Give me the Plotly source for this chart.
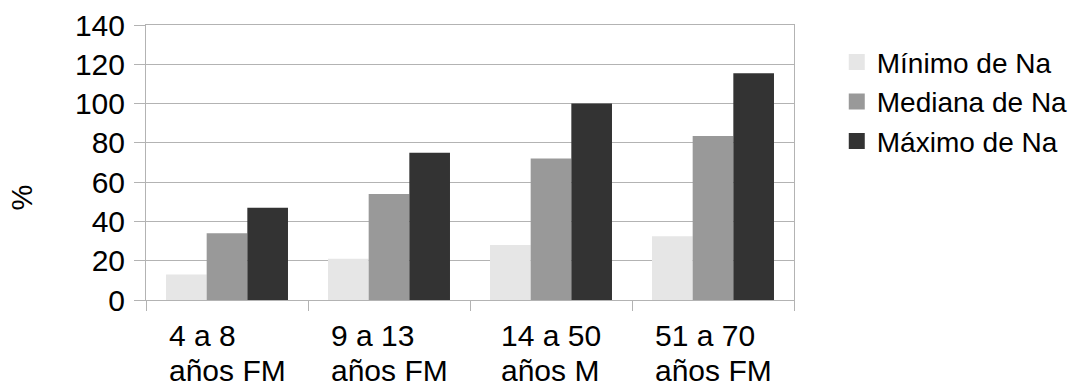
import plotly.graph_objects as go

# Age groups (two-line labels) and sodium statistics in %
categories = ["4 a 8<br>años FM", "9 a 13<br>años FM", "14 a 50<br>años M", "51 a 70<br>años FM"]
minimo = [13, 21, 28, 32.5]
mediana = [34, 54, 72, 83.5]
maximo = [47, 75, 100, 115.5]

series_names = ["Mínimo de Na", "Mediana de Na", "Máximo de Na"]
series_values = [minimo, mediana, maximo]
series_colors = ["#e6e6e6", "#999999", "#333333"]

y_ticks = [0, 20, 40, 60, 80, 100, 120, 140]

FONT = "Liberation Sans, Arial, sans-serif"
GRID = "#b3b3b3"

fig = go.Figure()
keys = [f"g{i}" for i in range(len(categories))]

for name, vals, col in zip(series_names, series_values, series_colors):
    fig.add_trace(go.Bar(x=keys, y=vals, name=name, marker_color=col,
                         marker_line_width=0, showlegend=False))

# legend entries with square swatches
for name, col in zip(series_names, series_colors):
    fig.add_trace(go.Scatter(x=[None], y=[None], mode="markers", name=name,
                             marker=dict(symbol="square", size=18, color=col)))

# category labels: block centred under the group, lines left-aligned;
# glyphs at 30px on a tighter 27px line pitch
for k, lab in zip(keys, categories):
    lines = "<br>".join(f'<span style="font-size:30px">{t}</span>'
                        for t in lab.split("<br>"))
    fig.add_annotation(x=k, y=0, xref="x", yref="paper", yshift=-17,
                       text=lines, showarrow=False, xanchor="center",
                       yanchor="top", align="left",
                       font=dict(family=FONT, size=27, color="black"))

# y-axis title
fig.add_annotation(x=-0.191, y=0.374, xref="paper", yref="paper",
                   text="%", textangle=-90, showarrow=False,
                   xanchor="center", yanchor="middle",
                   font=dict(family=FONT, size=29, color="black"))

fig.update_layout(
    width=1070, height=386,
    margin=dict(l=146, r=276, t=25, b=86, autoexpand=False),
    paper_bgcolor="white", plot_bgcolor="white",
    barmode="group", bargap=0.247, bargroupgap=0,
    font=dict(family=FONT, size=29, color="black"),
    legend=dict(x=1.066, y=0.955, xanchor="left", yanchor="top",
                font=dict(family=FONT, size=28, color="black"),
                itemsizing="trace", tracegroupgap=0,
                bgcolor="rgba(0,0,0,0)"),
    xaxis=dict(type="category", showticklabels=False, tickson="boundaries",
               ticks="outside", ticklen=10, tickcolor=GRID, tickwidth=1,
               showline=True, linecolor=GRID, linewidth=1, mirror=True,
               showgrid=False, zeroline=False),
    yaxis=dict(range=[0, 140], tickvals=y_ticks, ticks="outside", ticklen=11,
               tickcolor=GRID, tickwidth=1, showgrid=True, gridcolor=GRID,
               gridwidth=1, showline=True, linecolor=GRID, linewidth=1,
               mirror=True, zeroline=False, ticklabelstandoff=3,
               tickfont=dict(family=FONT, size=30, color="black")),
)

fig.write_html("out.html")
